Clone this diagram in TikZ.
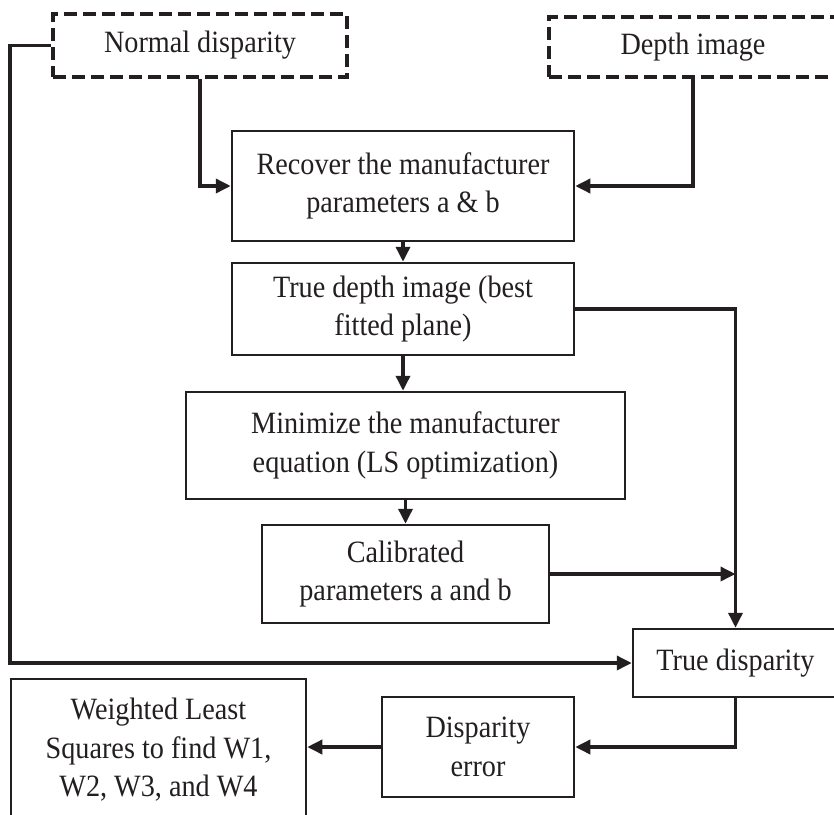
\documentclass[tikz,border=0pt]{standalone}
\usepackage{fontspec}
\setmainfont[FakeStretch=0.91]{Liberation Serif}
\usetikzlibrary{arrows.meta,positioning}
\definecolor{ink}{RGB}{35,31,32}
\begin{document}
\begin{tikzpicture}[x=1pt,y=-1pt,
  every node/.style={font=\fontsize{31}{38.5}\selectfont, text=ink, align=center, inner sep=2pt},
  procbox/.style={draw=ink, line width=2.5pt, rectangle},
  inbox/.style={draw=ink, line width=4pt, dash pattern=on 13pt off 6pt, rectangle},
  conn/.style={draw=ink, line width=3.5pt},
  arr/.style={conn, -{Triangle[length=15pt,width=14pt]}}]
\useasboundingbox (0,0) rectangle (834,814);
\clip (0,0) rectangle (834,814);
% nodes
\node[inbox, minimum width=294pt, minimum height=63pt] (nd) at (200,45.5) {Normal disparity};
\node[inbox, minimum width=288pt, minimum height=60pt] (di) at (693,47) {Depth image};
\node[procbox, minimum width=342pt, minimum height=110pt] (rec) at (403,186) {Recover the manufacturer\\parameters a \& b};
\node[procbox, minimum width=342pt, minimum height=92pt] (tdi) at (403,309) {True depth image (best\\fitted plane)};
\node[procbox, minimum width=439pt, minimum height=107pt] (min) at (405.5,445.5) {Minimize the manufacturer\\equation (LS optimization)};
\node[procbox, minimum width=287pt, minimum height=98pt] (cal) at (405.5,574) {Calibrated\\parameters a and b};
\node[procbox, minimum width=205pt, minimum height=68pt] (tdisp) at (735.5,663) {True disparity};
\node[procbox, minimum width=192pt, minimum height=100pt] (derr) at (478,747) {Disparity\\error};
\node[procbox, minimum width=295pt, minimum height=142pt] (wls) at (158.5,750) {Weighted Least\\Squares to find W1,\\W2, W3, and W4};
% connectors
\draw[arr] (nd.south) |- (rec.west);
\draw[arr] (di.south) |- (rec.east);
\draw[arr] (rec.south) -- (tdi.north);
\draw[arr] (tdi.south) -- (tdi.south |- min.north);
\draw[arr] (min.south) -- (min.south |- cal.north);
\draw[arr] (tdi.east) -| (tdisp.north);
\draw[arr] (cal.east) -- (cal.east -| tdisp.north);
\coordinate (lc) at ([xshift=-41pt]nd.west);
\draw[arr] (nd.west) -- (lc) |- (tdisp.west);
\draw[arr] (tdisp.south) |- (derr.east);
\draw[arr] (derr.west) -- (derr.west -| wls.east);
\end{tikzpicture}
\end{document}
